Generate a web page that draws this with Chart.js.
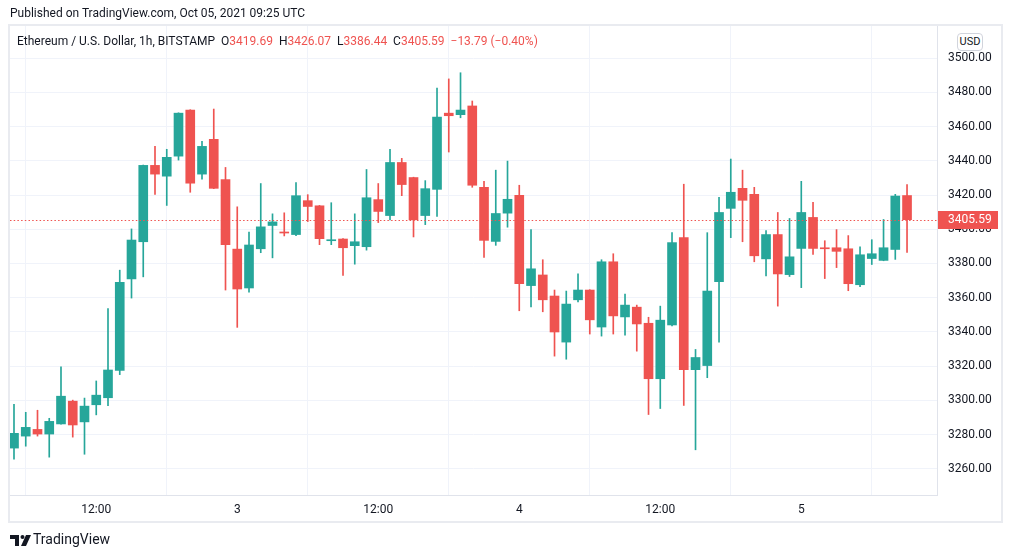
<!DOCTYPE html>
<html>
<head>
<meta charset="utf-8">
<script src="https://cdn.jsdelivr.net/npm/chart.js@4.4.0/dist/chart.umd.min.js"></script>
<style>
  html, body { margin: 0; padding: 0; background: #fff; }
  body { width: 1012px; height: 558px; position: relative; overflow: hidden; font-family: Roboto, sans-serif; color: #131722; }
  #frame { position: absolute; left: 8px; top: 24px; width: 995px; height: 499px; border: 2px solid #e9ebf0; box-sizing: border-box; }
  #chart { position: absolute; left: 0; top: 0; }
  .txt { position: absolute; white-space: pre; }
  #published { left: 10px; top: 6px; font-size: 12px; }
  #legend { left: 17px; top: 34px; font-size: 12px; }
  #legend .v { color: #ef5350; }
  #usd { left: 957px; top: 33px; width: 26px; height: 18px; border: 1px solid #d1d4dc; border-radius: 4px; box-sizing: border-box; font-size: 11px; text-align: center; line-height: 16px; background: #fff; }
  #brand { left: 33px; top: 531px; font-size: 14px; }
  #logo { position: absolute; left: 10px; top: 535px; }
</style>
</head>
<body>
<div id="frame"></div>
<canvas id="chart" width="1012" height="558"></canvas>
<div class="txt" id="published">Published on TradingView.com, Oct 05, 2021 09:25 UTC</div>
<div class="txt" id="legend">Ethereum / U.S. Dollar, 1h, BITSTAMP  O<span class="v">3419.69</span>  H<span class="v">3426.07</span>  L<span class="v">3386.44</span>  C<span class="v">3405.59</span>  <span class="v">−13.79 (−0.40%)</span></div>
<div class="txt" id="usd">USD</div>
<svg id="logo" width="21" height="11" viewBox="0 0 21 11">
  <path d="M0 0 H9 V11 H5 V4 H0 Z" fill="#131722"/>
  <circle cx="12.5" cy="2" r="2" fill="#131722"/>
  <path d="M16 0 H21 L16 11 H11 Z" fill="#131722"/>
</svg>
<div class="txt" id="brand">TradingView</div>
<script>
// ETH/USD 1h candles, Oct 2 05:00 -> Oct 5 09:00 UTC
const openP = [
  3272.2, 3279.2, 3283.1, 3280.4, 3286.3, 3299.6, 3287.5, 3297.5, 3301.6, 3317.5,
  3371.0, 3392.7, 3437.3, 3431.0, 3442.7, 3469.6, 3432.2, 3452.5, 3429.0, 3388.4,
  3365.7, 3388.6, 3402.2, 3398.4, 3396.9, 3416.7, 3413.7, 3393.3, 3394.3, 3390.4,
  3389.8, 3417.3, 3408.0, 3439.0, 3430.2, 3408.0, 3423.3, 3467.8, 3466.9, 3472.0,
  3424.5, 3392.9, 3409.4, 3419.8, 3367.1, 3373.3, 3361.0, 3334.1, 3358.8, 3364.5,
  3342.9, 3381.0, 3348.8, 3354.5, 3345.1, 3312.7, 3344.1, 3395.1, 3318.0, 3320.4,
  3369.4, 3412.2, 3423.9, 3420.4, 3382.7, 3396.9, 3373.5, 3388.8, 3406.9, 3389.0,
  3389.2, 3388.6, 3367.6, 3382.9, 3381.8, 3388.2, 3419.69
];
const highP = [
  3297.8, 3293.1, 3294.3, 3289.6, 3319.6, 3300.2, 3301.4, 3311.4, 3353.7, 3376.1,
  3400.2, 3437.5, 3448.4, 3446.7, 3468.0, 3469.8, 3451.4, 3470.2, 3436.1, 3413.1,
  3398.4, 3426.7, 3409.0, 3409.6, 3427.3, 3420.2, 3413.9, 3415.5, 3394.5, 3409.0,
  3434.9, 3426.7, 3446.7, 3441.4, 3430.4, 3428.4, 3482.5, 3487.8, 3491.4, 3474.9,
  3428.0, 3434.5, 3439.8, 3425.7, 3399.8, 3382.2, 3364.5, 3363.9, 3373.9, 3364.7,
  3382.2, 3385.7, 3362.2, 3355.7, 3348.6, 3355.1, 3398.0, 3426.3, 3329.8, 3398.0,
  3418.6, 3441.0, 3434.5, 3424.5, 3399.2, 3409.8, 3406.3, 3428.0, 3415.7, 3393.3,
  3399.8, 3396.3, 3389.8, 3393.9, 3405.7, 3420.4, 3426.07
];
const lowP = [
  3265.7, 3273.3, 3279.2, 3266.9, 3286.1, 3278.6, 3268.6, 3291.6, 3296.9, 3315.1,
  3359.8, 3372.2, 3420.4, 3413.9, 3440.4, 3421.6, 3429.2, 3423.7, 3364.5, 3342.7,
  3363.3, 3386.3, 3383.3, 3396.1, 3396.3, 3404.5, 3391.0, 3391.0, 3373.1, 3379.6,
  3387.8, 3403.9, 3405.5, 3419.6, 3395.5, 3402.7, 3407.5, 3445.1, 3465.1, 3424.5,
  3383.5, 3390.6, 3401.2, 3352.4, 3354.7, 3351.8, 3325.9, 3324.1, 3357.6, 3338.8,
  3337.6, 3338.8, 3338.2, 3328.8, 3291.8, 3295.3, 3343.5, 3297.1, 3271.2, 3313.3,
  3334.1, 3395.1, 3392.7, 3381.0, 3372.7, 3355.1, 3372.4, 3365.9, 3385.3, 3371.2,
  3377.6, 3364.1, 3366.5, 3379.4, 3381.6, 3382.4, 3386.44
];
const closeP = [
  3280.8, 3284.3, 3280.4, 3287.8, 3302.5, 3285.7, 3296.7, 3303.1, 3317.8, 3369.0,
  3393.7, 3437.3, 3432.2, 3442.0, 3467.8, 3426.9, 3448.4, 3423.9, 3391.0, 3365.1,
  3390.8, 3401.4, 3404.3, 3397.8, 3419.6, 3413.3, 3394.5, 3393.7, 3389.2, 3392.7,
  3418.4, 3410.4, 3439.0, 3426.1, 3405.5, 3423.7, 3465.5, 3466.3, 3469.6, 3425.7,
  3393.5, 3409.2, 3417.5, 3368.2, 3376.9, 3358.8, 3340.0, 3356.3, 3364.5, 3347.1,
  3381.0, 3349.4, 3355.7, 3344.7, 3312.7, 3346.9, 3392.2, 3318.0, 3325.1, 3363.9,
  3409.8, 3421.6, 3416.9, 3384.5, 3396.9, 3373.9, 3383.9, 3409.8, 3388.8, 3388.6,
  3387.1, 3368.2, 3385.1, 3385.7, 3389.2, 3419.4, 3405.59
];

// candle index of each time-axis label
const xTickIndex = [7, 19, 31, 43, 55, 67];
const xTickText = ['12:00', '3', '12:00', '4', '12:00', '5'];
const yTicks = [3260, 3280, 3300, 3320, 3340, 3360, 3380, 3400, 3420, 3440, 3460, 3480, 3500];
const lastPrice = 3405.59;

const UP = '#26a69a';
const DOWN = '#ef5350';
const TEXT = '#131722';
const colors = openP.map((o, i) => closeP[i] >= o ? UP : DOWN);

const bodies = openP.map((o, i) => ({ x: i, y: [o, closeP[i]] }));
const wicks = lowP.map((l, i) => ({ x: i, y: [l, highP[i]] }));

// dotted last-price line and the red price tag on the axis
const priceLine = {
    id: 'priceLine',
    afterDatasetsDraw(chart) {
        const { ctx, chartArea, scales } = chart;
        const y = Math.round(scales.y.getPixelForValue(lastPrice)) + 0.5;
        ctx.save();
        ctx.strokeStyle = DOWN;
        ctx.lineWidth = 1;
        ctx.setLineDash([1.5, 2.2]);
        ctx.beginPath();
        ctx.moveTo(chartArea.left, y);
        ctx.lineTo(chartArea.right, y);
        ctx.stroke();
        ctx.restore();
    },
    afterDraw(chart) {
        const { ctx, chartArea, scales } = chart;
        const y = scales.y.getPixelForValue(lastPrice);
        ctx.save();
        ctx.fillStyle = DOWN;
        ctx.fillRect(chartArea.right + 1, Math.round(y) - 9, 60, 18);
        ctx.fillStyle = '#fff';
        ctx.font = '12px Roboto';
        ctx.textBaseline = 'middle';
        ctx.fillText(lastPrice.toFixed(2), chartArea.right + 11, y + 0.5);
        ctx.restore();
    }
};

new Chart(document.getElementById('chart'), {
    type: 'bar',
    data: {
        datasets: [
            {
                data: bodies,
                backgroundColor: colors,
                barThickness: 9,
                minBarLength: 1,
                grouped: false,
                order: 1
            },
            {
                data: wicks,
                backgroundColor: colors,
                barThickness: 1,
                grouped: false,
                order: 2
            }
        ]
    },
    options: {
        responsive: false,
        animation: false,
        layout: { padding: { left: 10, right: 10, top: 26, bottom: 36 } },
        plugins: {
            legend: { display: false },
            tooltip: { enabled: false }
        },
        scales: {
            x: {
                type: 'linear',
                min: -0.34,
                max: 78.55,
                offset: false,
                afterBuildTicks: axis => { axis.ticks = xTickIndex.map(v => ({ value: v })); },
                afterFit: axis => { axis.height = 27; },
                ticks: {
                    autoSkip: false,
                    maxRotation: 0,
                    padding: 8,
                    color: TEXT,
                    font: { family: 'Roboto', size: 12 },
                    callback: v => xTickText[xTickIndex.indexOf(v)]
                },
                grid: { color: '#f0f3fa', drawTicks: false },
                border: { color: '#e0e3eb' }
            },
            y: {
                position: 'right',
                min: 3244.8,
                max: 3518.7,
                afterBuildTicks: axis => { axis.ticks = yTicks.map(v => ({ value: v })); },
                afterFit: axis => { axis.width = 65; },
                ticks: {
                    padding: 11,
                    color: TEXT,
                    font: { family: 'Roboto', size: 12 },
                    callback: v => v.toFixed(2)
                },
                grid: { color: '#f0f3fa', drawTicks: false },
                border: { color: '#e0e3eb' }
            }
        }
    },
    plugins: [priceLine]
});
</script>
</body>
</html>
